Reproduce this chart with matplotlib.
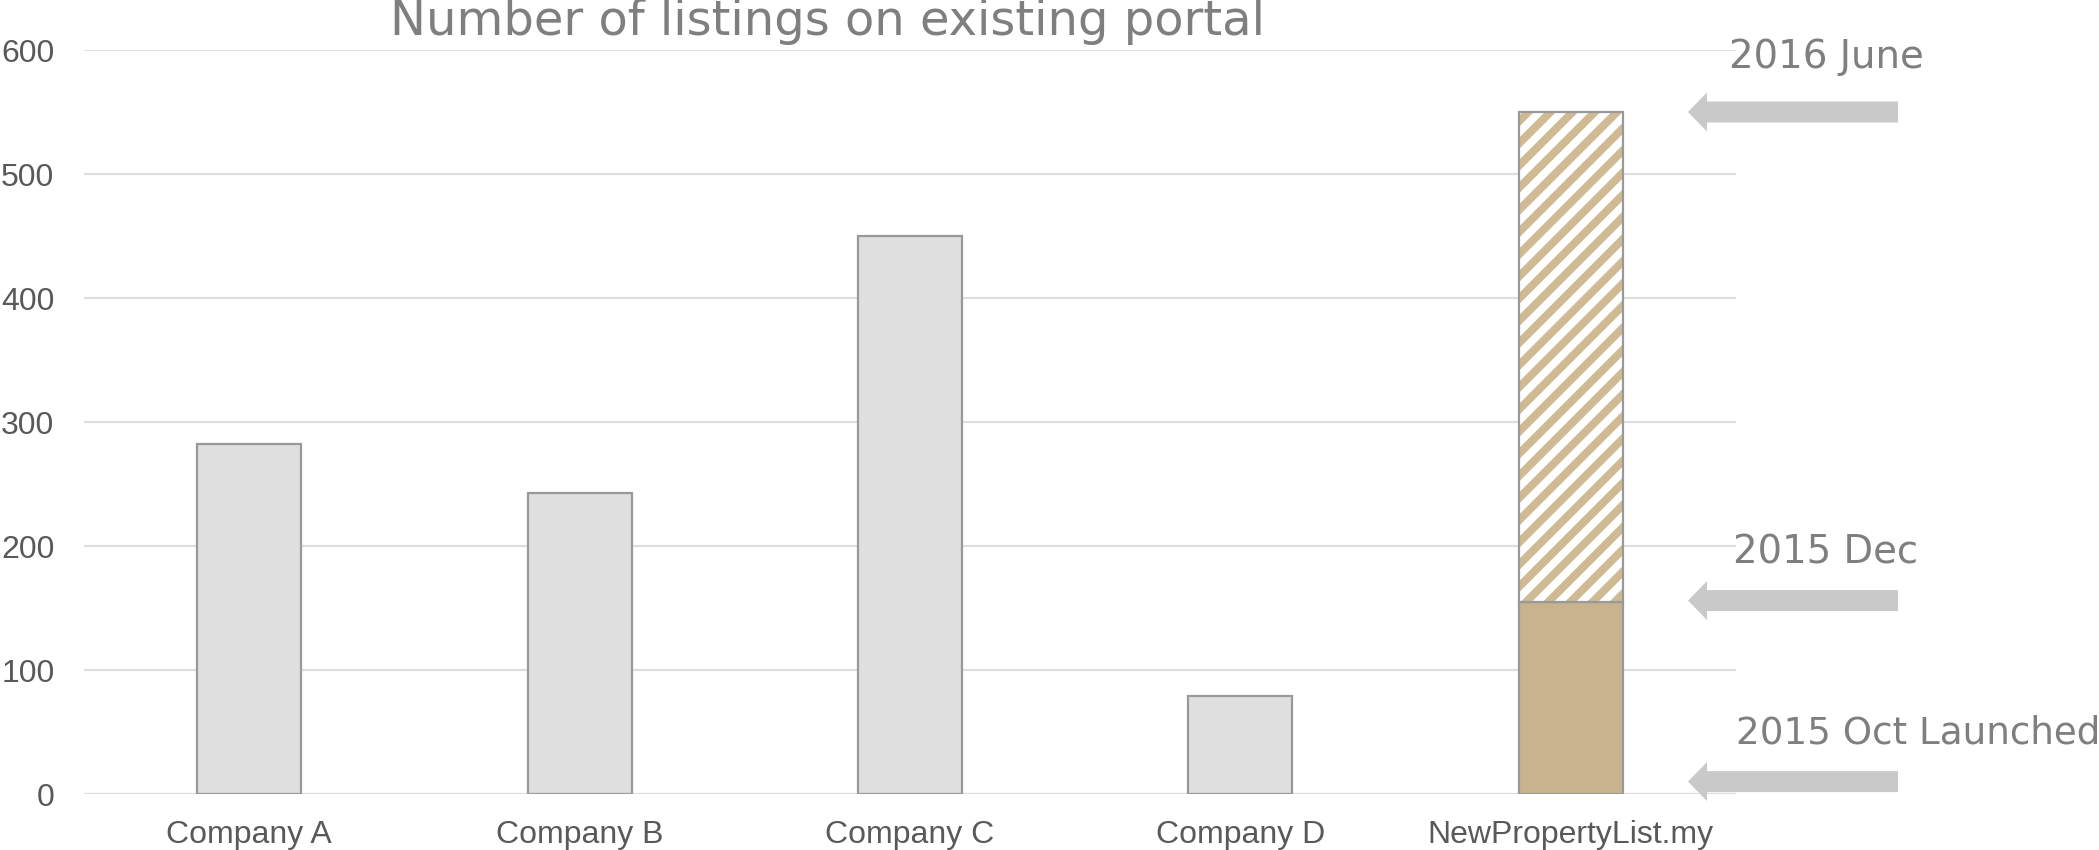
import matplotlib
matplotlib.use("Agg")
import matplotlib.pyplot as plt
from matplotlib.patches import FancyArrow
from matplotlib.transforms import blended_transform_factory

# ---- data ----
categories = ["Company A", "Company B", "Company C", "Company D", "NewPropertyList.my"]
competitor_listings = [282, 243, 450, 79]
npl_dec_2015 = 155
npl_june_2016 = 550
y_ticks = [0, 100, 200, 300, 400, 500, 600]
milestones = ["2016 June", "2015 Dec", "2015 Oct Launched"]
milestone_values = [550, 156, 10]
title = "Number of listings on existing portal"

# ---- style ----
DPI = 133
plt.rcParams["hatch.linewidth"] = 4.3
fig = plt.figure(figsize=(2099 / DPI, 850 / DPI), dpi=DPI)
ax = fig.add_axes([84 / 2099, 56 / 850, 1652 / 2099, 744 / 850])

gray_fill = "#DFDFDF"
edge = "#999999"
tan = "#C9B38F"
hatch_col = "#CFBA93"
txt_gray = "#7F7F7F"
tick_col = "#595959"
arrow_col = "#C9C9C9"
bw = 0.315

x = list(range(len(categories)))
ax.bar(x[:4], competitor_listings, width=bw, color=gray_fill, edgecolor=edge,
       linewidth=1.2, zorder=3)
# NewPropertyList.my
ax.bar(x[4], npl_dec_2015, width=bw, color=tan, edgecolor=edge, linewidth=1.2, zorder=3)
ax.bar(x[4], npl_june_2016 - npl_dec_2015, bottom=npl_dec_2015, width=bw,
       facecolor="white", edgecolor=hatch_col, hatch="//", linewidth=0, zorder=3)
ax.bar(x[4], npl_june_2016 - npl_dec_2015, bottom=npl_dec_2015, width=bw,
       fill=False, edgecolor=edge, linewidth=1.2, zorder=4)

ax.set_xlim(-0.5, len(categories) - 0.5)
ax.set_ylim(0, 600)
ax.set_yticks(y_ticks)
ax.set_xticks(x)
ax.set_xticklabels(categories)
for s in ax.spines.values():
    s.set_visible(False)
ax.grid(axis="y", color="#DEDEDE", linewidth=1.2, zorder=0)
ax.set_axisbelow(True)
ax.tick_params(axis="both", length=0, labelsize=17.3, labelcolor=tick_col)
ax.tick_params(axis="y", pad=16)
ax.tick_params(axis="x", pad=14)
for lab in ax.get_xticklabels() + ax.get_yticklabels():
    lab.set_fontfamily("Liberation Sans")

# title
ax.text(0.45, 1.0 + (50 - 35) / 744, title, transform=ax.transAxes,
        ha="center", va="baseline", fontsize=26, color=txt_gray,
        family="DejaVu Sans")

# arrows and milestone labels
bt = blended_transform_factory(ax.transAxes, ax.transData)
tip = (1688 - 84) / 1652
end = (1898 - 84) / 1652
head_len = 19 / 1652
px_per_unit = 744 / 600
text_offsets = [(1729 - 84) / 1652, (1733 - 84) / 1652, (1736 - 84) / 1652]
text_dy_px = [44.5, 37, 38.3]
text_sizes = [20.9, 20.9, 20.2]
for lab, v, tx, dy, fs in zip(milestones, milestone_values, text_offsets, text_dy_px, text_sizes):
    arr = FancyArrow(end, v, tip - end, 0, width=21 / px_per_unit,
                     head_width=39 / px_per_unit, head_length=head_len,
                     length_includes_head=True, transform=bt, clip_on=False,
                     color=arrow_col, linewidth=0, zorder=5)
    ax.add_patch(arr)
    ax.text(tx, v + dy / px_per_unit, lab, transform=bt, ha="left", va="baseline",
            fontsize=fs, color=txt_gray, family="DejaVu Sans", clip_on=False)

fig.savefig("out.png", dpi=DPI)
